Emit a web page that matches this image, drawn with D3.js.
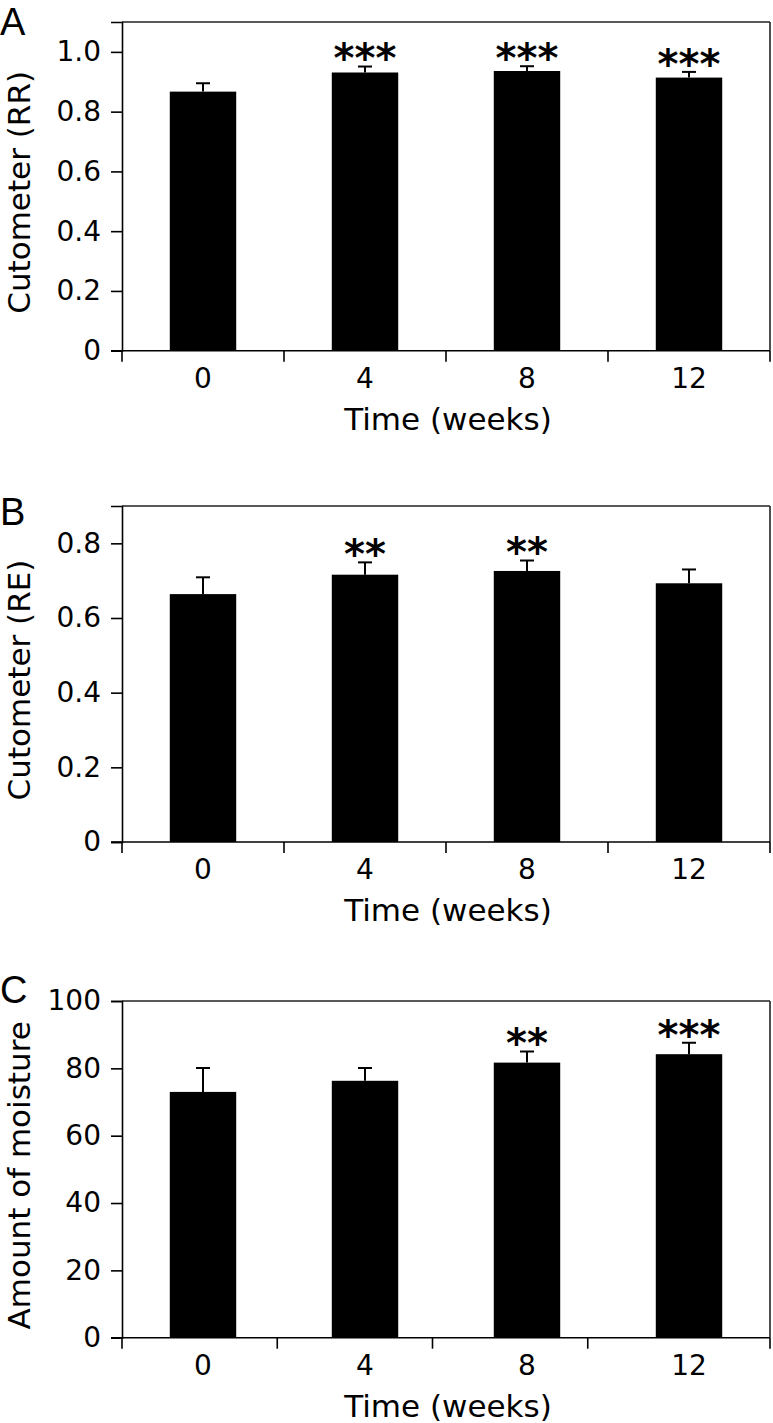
<!DOCTYPE html>
<html>
<head>
<meta charset="utf-8">
<script src="https://cdn.jsdelivr.net/npm/d3@7"></script>
<style>
  html, body { margin: 0; padding: 0; background: #fff; }
  svg { display: block; }
  text { font-family: "DejaVu Sans", Verdana, sans-serif; fill: #000; }
</style>
</head>
<body>
<svg id="chart" width="773" height="1423"></svg>
<script>
// ---- data ----
const categories = ["0", "4", "8", "12"];

const rrMean = [0.867, 0.931, 0.936, 0.914];
const rrErr  = [0.028, 0.020, 0.016, 0.019];
const rrSig  = ["", "***", "***", "***"];
const rrTicks = [0, 0.2, 0.4, 0.6, 0.8, 1.0];
const rrTickLabels = ["0", "0.2", "0.4", "0.6", "0.8", "1.0"];

const reMean = [0.664, 0.716, 0.726, 0.693];
const reErr  = [0.045, 0.033, 0.028, 0.037];
const reSig  = ["", "**", "**", ""];
const reTicks = [0, 0.2, 0.4, 0.6, 0.8];
const reTickLabels = ["0", "0.2", "0.4", "0.6", "0.8"];

const moistMean = [73.0, 76.3, 81.7, 84.2];
const moistErr  = [7.1, 3.8, 3.3, 3.4];
const moistSig  = ["", "", "**", "***"];
const moistTicks = [0, 20, 40, 60, 80, 100];
const moistTickLabels = ["0", "20", "40", "60", "80", "100"];

const panels = [
  { letter: "A", title: "Cutometer (RR)", mean: rrMean, err: rrErr, sig: rrSig,
    ticks: rrTicks, tickLabels: rrTickLabels, yMax: 1.1, top: 22, bottom: 350.7, letterY: 35, skewTicks: false },
  { letter: "B", title: "Cutometer (RE)", mean: reMean, err: reErr, sig: reSig,
    ticks: reTicks, tickLabels: reTickLabels, yMax: 0.9, top: 506, bottom: 842, letterY: 525, skewTicks: false },
  { letter: "C", title: "Amount of moisture", mean: moistMean, err: moistErr, sig: moistSig,
    ticks: moistTicks, tickLabels: moistTickLabels, yMax: 100, top: 1001, bottom: 1337.7, letterY: 1003, skewTicks: true }
];

const svg = d3.select("#chart");
const left = 122, right = 770;
const tickFont = 28, titleFont = 31, starFont = 40;

panels.forEach(p => {
  const g = svg.append("g");
  const x = d3.scaleBand().domain(categories).range([left, right]).paddingInner(0.59).paddingOuter(0.295);
  const y = d3.scaleLinear().domain([0, p.yMax]).range([p.bottom, p.top]);

  // bars
  g.selectAll("rect.bar").data(categories).enter().append("rect")
    .attr("x", d => x(d))
    .attr("width", x.bandwidth())
    .attr("y", (d, i) => y(p.mean[i]))
    .attr("height", (d, i) => y(0) - y(p.mean[i]))
    .attr("fill", "#000");

  // error bars
  const eb = g.selectAll("g.err").data(categories).enter().append("g");
  eb.append("line")
    .attr("x1", d => x(d) + x.bandwidth() / 2).attr("x2", d => x(d) + x.bandwidth() / 2)
    .attr("y1", (d, i) => y(p.mean[i])).attr("y2", (d, i) => y(p.mean[i] + p.err[i]))
    .attr("stroke", "#000").attr("stroke-width", 2);
  eb.append("line")
    .attr("x1", d => x(d) + x.bandwidth() / 2 - 7).attr("x2", d => x(d) + x.bandwidth() / 2 + 7)
    .attr("y1", (d, i) => y(p.mean[i] + p.err[i])).attr("y2", (d, i) => y(p.mean[i] + p.err[i]))
    .attr("stroke", "#000").attr("stroke-width", 2);

  // significance stars
  g.selectAll("text.sig").data(categories).enter().append("text")
    .attr("x", d => x(d) + x.bandwidth() / 2)
    .attr("y", (d, i) => y(p.mean[i] + p.err[i]) - 11 + starFont * 0.42)
    .attr("text-anchor", "middle")
    .style("font-size", starFont + "px")
    .style("font-weight", "bold")
    .text((d, i) => p.sig[i]);

  // frame top & right
  g.append("line").attr("x1", left).attr("x2", right).attr("y1", p.top).attr("y2", p.top)
    .attr("stroke", "#222").attr("stroke-width", 1.6);
  g.append("line").attr("x1", right).attr("x2", right).attr("y1", p.top).attr("y2", p.bottom)
    .attr("stroke", "#222").attr("stroke-width", 1.6);

  // y axis
  const yAxis = d3.axisLeft(y).tickValues(p.ticks).tickSize(11).tickPadding(10)
    .tickFormat((d, i) => p.tickLabels[i]);
  const ya = g.append("g").attr("transform", `translate(${left},0)`).call(yAxis);
  ya.select(".domain").attr("stroke", "#000").attr("stroke-width", 1.6);
  ya.selectAll(".tick line").attr("stroke", "#000").attr("stroke-width", 1.6);
  ya.selectAll(".tick text").style("font-size", tickFont + "px")
    .style("font-family", '"DejaVu Sans", Verdana, sans-serif').attr("fill", "#000");

  // x axis line (extends left to tick length)
  g.append("line").attr("x1", left - 11).attr("x2", right).attr("y1", p.bottom).attr("y2", p.bottom)
    .attr("stroke", "#000").attr("stroke-width", 1.6);

  // x boundary ticks (downward)
  let boundaries;
  if (p.skewTicks) {
    const xt = d3.scaleLinear().domain([0, 4]).range([left, 743]);
    boundaries = [0, 1, 2, 3].map(k => xt(k)).concat([right]);
  } else {
    boundaries = categories.map(c => x(c) - x.step() * x.paddingInner() / 2).concat([right]);
    boundaries[0] = left;
  }
  g.selectAll("line.xt").data(boundaries).enter().append("line")
    .attr("x1", d => d).attr("x2", d => d)
    .attr("y1", p.bottom).attr("y2", p.bottom + 11)
    .attr("stroke", "#000").attr("stroke-width", 1.6);

  // x labels
  g.selectAll("text.xl").data(categories).enter().append("text")
    .attr("x", d => x(d) + x.bandwidth() / 2)
    .attr("y", p.bottom + 37)
    .attr("text-anchor", "middle")
    .style("font-size", tickFont + "px")
    .text(d => d);

  // x title
  g.append("text").attr("x", (left + right) / 2 + 2).attr("y", p.bottom + 79)
    .attr("text-anchor", "middle").style("font-size", titleFont + "px").text("Time (weeks)");

  // y title
  g.append("text")
    .attr("transform", `translate(${30},${(p.top + p.bottom) / 2 + 6}) rotate(-90)`)
    .attr("text-anchor", "middle").style("font-size", titleFont + "px").text(p.title);

  // panel letter
  g.append("text").attr("x", 0).attr("y", p.letterY)
    .style("font-family", '"Liberation Sans", Arial, sans-serif')
    .style("font-size", "38px").text(p.letter);
});
</script>
</body>
</html>
